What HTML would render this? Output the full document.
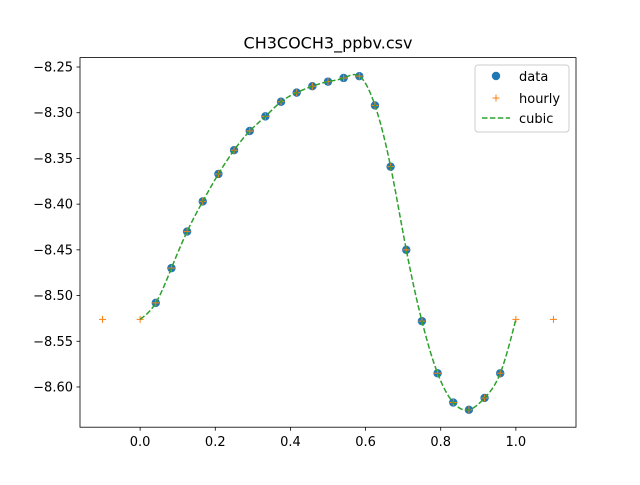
<!DOCTYPE html>
<html><head><meta charset="utf-8"><style>
body{margin:0;background:#fff;font-family:"Liberation Sans","DejaVu Sans",sans-serif}
svg text{font-family:"DejaVu Sans","Liberation Sans",sans-serif;fill:#000}
</style></head><body>
<svg id="c" width="640" height="480" xmlns="http://www.w3.org/2000/svg"></svg>
<script>
const dataX=[1,2,3,4,5,6,7,8,9,10,11,12,13,14,15,16,17,18,19,20,21,22,23].map(k=>k/24);
const dataY=[-8.508,-8.470,-8.430,-8.397,-8.367,-8.341,-8.320,-8.304,-8.288,-8.278,-8.271,-8.266,-8.262,-8.260,-8.292,-8.359,-8.450,-8.528,-8.585,-8.617,-8.625,-8.612,-8.585];
const edgeX=[-0.1,0,1,1.1];
const edgeY=[-8.526,-8.526,-8.526,-8.526];
const xTicks=[0.0,0.2,0.4,0.6,0.8,1.0];
const xTickLabels=["0.0","0.2","0.4","0.6","0.8","1.0"];
const yTicks=[-8.25,-8.30,-8.35,-8.40,-8.45,-8.50,-8.55,-8.60];
const yTickLabels=["−8.25","−8.30","−8.35","−8.40","−8.45","−8.50","−8.55","−8.60"];

const L=80,R=576,T=57.6,B=427.2,x0=-0.16,x1=1.16,y0=-8.644,y1=-8.2397;
const sx=v=>L+(v-x0)/(x1-x0)*(R-L);
const sy=v=>B-(v-y0)/(y1-y0)*(B-T);
const svg=document.getElementById('c');
const NS="http://www.w3.org/2000/svg";
function mk(tag,attrs,parent){const e=document.createElementNS(NS,tag);for(const k in attrs)e.setAttribute(k,attrs[k]);(parent||svg).appendChild(e);return e;}

const hx=[],hy=[];
edgeX.forEach((x,i)=>{hx.push(x);hy.push(edgeY[i]);});
dataX.forEach((x,i)=>{hx.push(x);hy.push(dataY[i]);});
const order=hx.map((x,i)=>i).sort((a,b)=>hx[a]-hx[b]);
const HX=order.map(i=>hx[i]),HY=order.map(i=>hy[i]);

const SX=[],SY=[];
HX.forEach((x,i)=>{if(x>=0&&x<=1){SX.push(x);SY.push(HY[i]);}});
function spline(xs,ys){const n=xs.length,h=[],a=[],l=[1],mu=[0],z=[0],c=new Array(n).fill(0),b=[],d=[];
for(let i=0;i<n-1;i++)h.push(xs[i+1]-xs[i]);
for(let i=1;i<n-1;i++)a[i]=3/h[i]*(ys[i+1]-ys[i])-3/h[i-1]*(ys[i]-ys[i-1]);
for(let i=1;i<n-1;i++){l[i]=2*(xs[i+1]-xs[i-1])-h[i-1]*mu[i-1];mu[i]=h[i]/l[i];z[i]=(a[i]-h[i-1]*z[i-1])/l[i];}
for(let j=n-2;j>=0;j--){c[j]=(j>0?z[j]:0)-mu[j]*c[j+1];b[j]=(ys[j+1]-ys[j])/h[j]-h[j]*(c[j+1]+2*c[j])/3;d[j]=(c[j+1]-c[j])/(3*h[j]);}
return x=>{let i=0;while(i<n-2&&x>xs[i+1])i++;const t=x-xs[i];return ys[i]+b[i]*t+c[i]*t*t+d[i]*t*t*t;};}
const f=spline(SX,SY);

const frame=mk('rect',{x:L,y:T,width:R-L,height:B-T,fill:'none',stroke:'#000','stroke-width':0.8});


xTicks.forEach((v,i)=>{const g=mk('g',{});
mk('line',{x1:sx(v),x2:sx(v),y1:B,y2:B+3.5,stroke:'#000','stroke-width':0.8},g);
const t=mk('text',{x:sx(v),y:B+19,'text-anchor':'middle','font-size':13},g);t.textContent=xTickLabels[i];});
yTicks.forEach((v,i)=>{const g=mk('g',{});
mk('line',{x1:L-3.5,x2:L,y1:sy(v),y2:sy(v),stroke:'#000','stroke-width':0.8},g);
const t=mk('text',{x:L-7,y:sy(v)+4.5,'text-anchor':'end','font-size':13},g);t.textContent=yTickLabels[i];});

const title=mk('text',{x:(L+R)/2,y:T-9,'text-anchor':'middle','font-size':16});title.textContent='CH3COCH3_ppbv.csv';


dataX.forEach((x,i)=>{const c=mk('circle',{cx:sx(x),cy:sy(dataY[i]),r:4.2,fill:'#1f77b4'});
});
HX.forEach((x,i)=>{const p=mk('path',{d:`M${sx(x)-3.5},${sy(HY[i])}h7M${sx(x)},${sy(HY[i])-3.5}v7`,stroke:'#ff7f0e','stroke-width':1});
});
let d='';for(let k=0;k<=400;k++){const x=k/400;d+=(k?'L':'M')+sx(x).toFixed(2)+','+sy(f(x)).toFixed(2);}
const cl=mk('path',{d:d,fill:'none',stroke:'#2ca02c','stroke-width':1.5,'stroke-dasharray':'5.5,2.4'});


const lg=mk('g',{});
mk('rect',{x:475,y:65,width:94,height:67,rx:3,fill:'#fff',stroke:'#ccc','stroke-width':1},lg);
mk('circle',{cx:496,cy:76,r:4.2,fill:'#1f77b4'},lg);
let t=mk('text',{x:519,y:81,'font-size':13},lg);t.textContent='data';
mk('path',{d:'M492.5,98h7M496,94.5v7',stroke:'#ff7f0e','stroke-width':1},lg);
t=mk('text',{x:519,y:103,'font-size':13},lg);t.textContent='hourly';
mk('line',{x1:482,x2:510,y1:118,y2:118,stroke:'#2ca02c','stroke-width':1.5,'stroke-dasharray':'5.5,2.4'},lg);
t=mk('text',{x:519,y:123,'font-size':13},lg);t.textContent='cubic';
</script>
</body></html>
